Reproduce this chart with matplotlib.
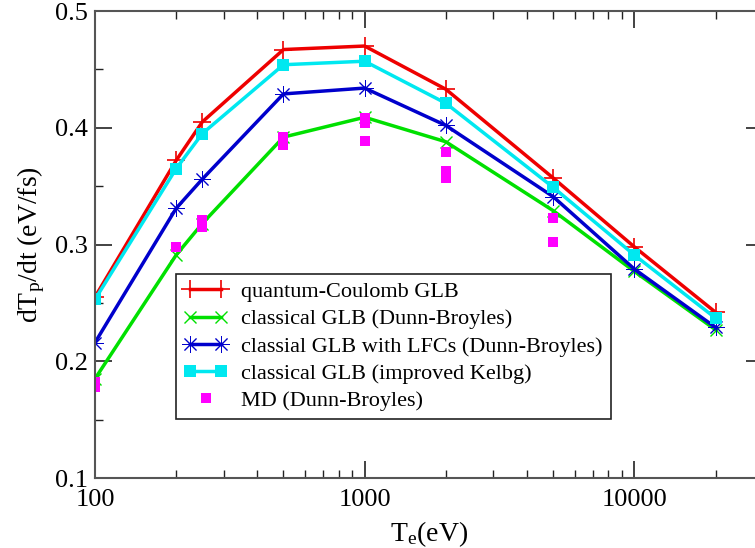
import matplotlib
matplotlib.use("Agg")
import matplotlib.pyplot as plt
from matplotlib.ticker import LogLocator, MultipleLocator, FixedFormatter, FixedLocator
from matplotlib.legend_handler import HandlerLine2D

plt.rcParams['font.family'] = ['Liberation Serif', 'DejaVu Serif']
plt.rcParams['mathtext.default'] = 'regular'

# electron temperature (eV)
te = [100, 200, 250, 500, 1000, 2000, 5000, 10000, 20000]

# stopping rates dT_p/dt (eV/fs)
quantum_coulomb = [0.255, 0.372, 0.405, 0.467, 0.470, 0.433, 0.357, 0.298, 0.242]
classical_db = [0.185, 0.291, 0.318, 0.392, 0.409, 0.388, 0.329, 0.277, 0.227]
classical_lfc = [0.216, 0.331, 0.356, 0.429, 0.434, 0.402, 0.341, 0.279, 0.229]
classical_kelbg = [0.253, 0.365, 0.395, 0.454, 0.457, 0.421, 0.349, 0.291, 0.237]

# MD runs
md_te = [100, 100, 200, 250, 250, 500, 500, 1000, 1000, 1000, 2000, 2000, 2000, 5000, 5000]
md_rate = [0.182, 0.178, 0.298, 0.321, 0.315, 0.392, 0.385, 0.408, 0.404, 0.389,
           0.379, 0.363, 0.357, 0.323, 0.302]

fig = plt.figure(figsize=(7.55, 5.48), dpi=100)
ax = fig.add_axes([0.1258, 0.1277, 0.8848, 0.8522])

ax.plot(te, quantum_coulomb, color='#ee0000', lw=2.5, marker='+', ms=13, mew=1.2,
        label='quantum-Coulomb GLB')
ax.plot(te, classical_db, color='#00e000', lw=2.5, marker='x', ms=9, mew=1.0,
        label='classical GLB (Dunn-Broyles)')
ax.plot(te, classical_lfc, color='#0000cc', lw=2.5, marker=(8, 2, 0), ms=12, mew=0.7,
        label='classial GLB with LFCs (Dunn-Broyles)')
ax.plot(te, classical_kelbg, color='#00e8f0', lw=2.5, marker='s', ms=8, mew=0,
        label='classical GLB (improved Kelbg)')
md, = ax.plot(md_te, md_rate, ls='none', color='#ff00ff', marker='s', ms=7.5, mew=0,
              label='MD (Dunn-Broyles)')

ax.set_xscale('log')
ax.set_xlim(100, 30000)
ax.set_ylim(0.1, 0.5)

ax.xaxis.set_major_locator(FixedLocator([100, 1000, 10000]))
ax.xaxis.set_major_formatter(FixedFormatter(['100', '1000', '10000']))
ax.xaxis.set_minor_locator(LogLocator(base=10, subs=range(2, 10)))
ax.xaxis.set_minor_formatter(FixedFormatter([]))
ax.yaxis.set_minor_locator(MultipleLocator(0.05))
ax.set_yticks([0.1, 0.2, 0.3, 0.4, 0.5])
ax.set_yticklabels(['0.1', '0.2', '0.3', '0.4', '0.5'])

ax.tick_params(which='both', direction='in', top=True, right=True,
               labelsize=19, color='#222222')
ax.tick_params(axis='y', pad=5)
ax.tick_params(axis='x', pad=8)
ax.tick_params(which='major', length=12, width=1.2)
ax.tick_params(which='minor', length=6, width=1.0)
for s in ax.spines.values():
    s.set_color('#555555')
    s.set_linewidth(1.5)

ax.set_xlabel('T$_e$(eV)', fontsize=20, labelpad=6)
ax.set_ylabel('dT$_p$/dt (eV/fs)', fontsize=20, labelpad=6)

leg = ax.legend(loc='upper left', bbox_to_anchor=(0.121, 0.437), fontsize=16,
                frameon=True, fancybox=False, edgecolor='#222222', framealpha=1,
                numpoints=2, handler_map={md: HandlerLine2D(numpoints=1)},
                handlelength=2.0, handletextpad=0.6, labelspacing=0.3,
                borderpad=0.35, borderaxespad=0)
leg.get_frame().set_linewidth(1.2)

fig.savefig('out.png', dpi=100)
